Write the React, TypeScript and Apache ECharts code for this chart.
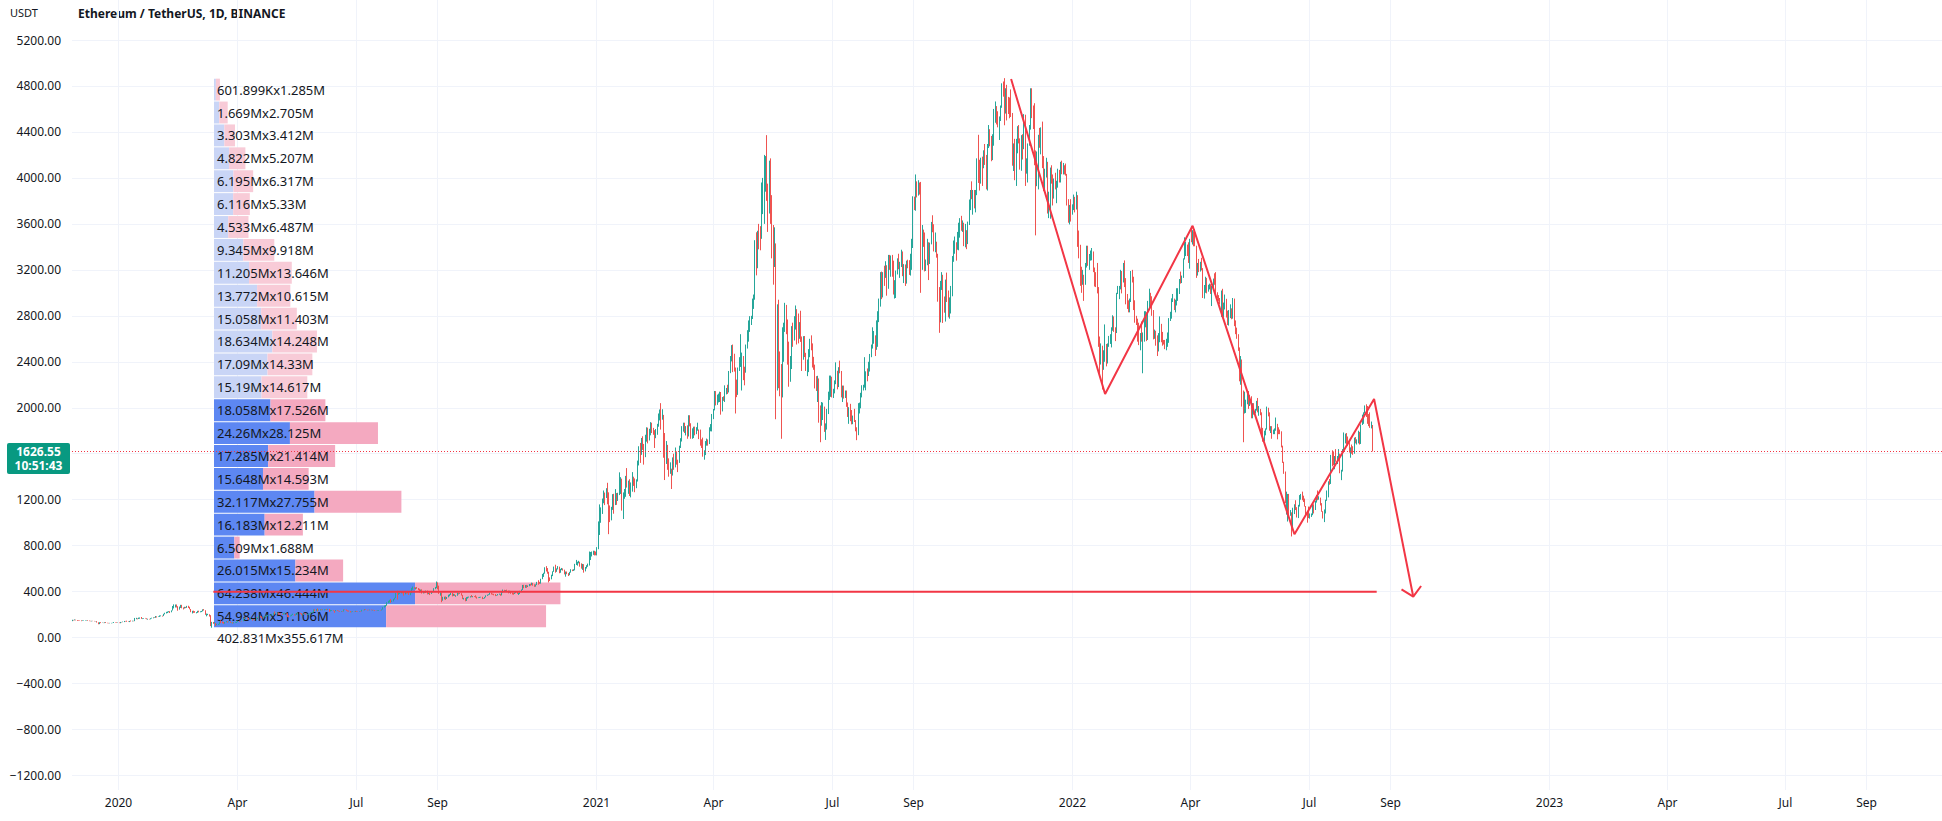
import React, { useEffect, useRef } from "react";
import * as echarts from "echarts";

// ---------- Chart text ----------
const TITLE = "Ethereum / TetherUS, 1D, BINANCE";
const CURRENCY = "USDT";
const LAST_PRICE = 1626.55;
const LAST_PRICE_TEXT = "1626.55";
const COUNTDOWN_TEXT = "10:51:43";

// ---------- Axes ----------
const Y_MIN = -1200;
const Y_MAX = 5200;
const Y_STEP = 400;
const X_TICK_DATES = ["2020-01-01", "2020-04-01", "2020-07-01", "2020-09-01", "2021-01-01", "2021-04-01", "2021-07-01", "2021-09-01", "2022-01-01", "2022-04-01", "2022-07-01", "2022-09-01", "2023-01-01", "2023-04-01", "2023-07-01", "2023-09-01"];
const X_TICK_LABELS = ["2020", "Apr", "Jul", "Sep", "2021", "Apr", "Jul", "Sep", "2022", "Apr", "Jul", "Sep", "2023", "Apr", "Jul", "Sep"];
const X_MIN = Date.UTC(2019, 10, 26, 18, 30);
const X_MAX = Date.UTC(2023, 9, 28, 22, 48);
const VOL_AXIS_MIN = -45.37;
const VOL_AXIS_MAX = 552.08;

// ---------- Daily candles: [close, high, low]; open = previous close ----------
const FIRST_OPEN = 146.8;
const nov19 = [[147.2,150,144],[152,155,143],[150.8,154,149],[155,158,150],[151,156,150]];
const dec19 = [[150,152,145],[148.5,151,146],[147,149,145],[146,150,143],[148,150,145],[149,150,146],[150,152,148],[150.5,152,148],[147,152,146],[145,148,143],[143,146,142],[145,146,141],[144.8,146,143],[141.6,145,141],[142.3,143,140],[132.7,143,131],[121.9,133,116],[132.4,134,117],[128.6,134,126],[128.7,130,127],[126.8,129,126],[132.2,133,126],[127.8,135,127],[127.5,129,125],[125.4,128,124],[125.9,128,124],[127,128,124],[128.1,129,126],[133.8,135,127],[132.1,134,130],[129.2,133,128]];
const jan20 = [[130.7,132,128],[127.2,131,126],[134.4,136,125],[134.2,136,132],[135.4,139,134],[144.2,144.8,135],[142.8,145,140],[140.8,147,138],[137.8,141,136],[144.5,145,135],[142.4,149,140],[146.1,147,141],[144,146,142],[165,171,143],[166.4,172,160],[163.8,167,159],[171,174,162],[174.1,175,164],[166.8,179,163],[167.2,168,161],[169.6,170,164],[167.8,171,166],[162.5,168,159],[162.5,164,156],[160.6,163,158],[168.3,169,159],[170.3,173,166],[175.6,176,168],[174.1,178,172],[184.7,188,172],[179.3,185,175]];
const feb20 = [[183.1,184,179],[188.6,193,180],[189.9,193,185],[188.6,191,183],[203.8,207,187],[212.7,216,202],[222.8,224,210],[223.2,227,213],[228.8,230,220],[222.6,230,214],[236.2,237,220],[265.1,275,236],[268.6,289,254],[284.3,288,262],[264.1,288,262],[258.9,273,234],[267.8,270,243],[282.3,285,258],[259.4,285,255],[257.8,263,245],[265,268,253],[261.3,267,256],[274.6,276,259],[265.9,277,258],[247.8,268,246],[224.9,249,221],[227.6,233,210],[226.6,234,215],[217.2,230,216]];
const mar20 = [[218,222,211],[231.5,233,215],[224.2,234,220],[224.5,229,220],[229,232,222],[244.1,246,228],[238,248,235],[200,238,198],[200.4,209,185],[201.2,207,195],[194.7,203,183],[112.4,195,100],[133.9,137,86],[123.7,136,120],[125.2,136,123],[110.6,126,101],[116.5,120,108],[117.6,119,110],[135.5,140,114],[132.7,150,126],[132.6,140,125],[122.3,136,120],[135.5,136,121],[138.8,145,134],[136.1,142,131],[138.4,140,133],[130.6,140,129],[131.3,132,125],[125.1,133,123],[132,134,124],[133.4,136,130]];
const apr20 = [[136.3,138,128],[141.8,147,135],[141.4,146,138],[143.8,146,140],[142.6,145,141],[170.5,172,142],[164.9,174,164],[173,175,162],[170.9,173,167],[158.1,171,155],[158.2,160,154],[160.8,167,157],[156.2,161,148],[157.6,159,153],[153,161,152],[172.3,176,150],[170.7,176,169],[187.4,188,170],[180.4,188,177],[170.5,183,168],[170.3,174,168],[183.4,184,170],[184.3,191,180],[187.6,190,182],[194.4,197,186],[196.9,199,193],[196.9,200,195],[197.1,200,193],[215,217,196],[205.9,227,201]];
const may20 = [[211.9,215,205],[213.6,215,209],[209.8,218,200],[207.2,210,198],[204.9,210,201],[203.6,208,199],[212.3,215,200],[212.4,217,209],[211,214,209],[188,212,178],[186,194,177],[189.2,193,184],[199,200,187],[202.9,208,196],[194.5,204,191],[200.2,201,193],[206.9,210,199],[214.3,215,205],[213.7,216,210],[209.5,215,206],[198.7,211,194],[208.7,210,197],[206.4,211,205],[201.3,210,200],[201.8,204,196],[203.7,207,199],[208.1,210,202],[219.9,221,206],[220.3,224,215],[244.3,245,219],[231.5,247,229]];
const jun20 = [[247.7,249,230],[236.3,253,228],[242.4,244,235],[244.4,246,236],[240.8,247,238],[242.7,244,238],[244.6,246,237],[245.8,247,242],[244,248,240],[247.4,250,242],[229.5,249,224],[236.5,241,228],[237.6,240,233],[233.2,239,232],[230.2,233,216],[236.5,240,229],[234.4,239,232],[230.2,235,228],[228.2,231,225],[228.9,230,224],[227.2,231,226],[243.4,245,227],[243.1,246,240],[236.1,245,233],[232,237,227],[229.6,235,226],[221.6,231,219],[225.1,227,220],[227.5,229,224],[225.7,228,223]];
const jul20 = [[231,233,224],[227.8,232,225],[225.8,229,225],[228.8,230,225],[227.1,229,224],[241.1,242,227],[238.4,242,237],[246.6,247,237],[242.1,248,240],[241.5,242,236],[239.3,242,238],[241.7,243,237],[239.2,244,237],[240.5,241,236],[238.7,242,237],[233.4,239,231],[232.8,235,231],[235.5,237,232],[238.5,240,234],[236.2,239,235],[245.4,246,236],[262.3,265,244],[274.5,279,261],[279.4,283,267],[305.7,308,277],[311.2,320,301],[321.1,328,305],[317.5,336,303],[318.2,323,309],[334.4,337,315],[345.7,347,330]];
const aug20 = [[387,389,344],[371.9,408,331],[385.9,392,372],[389.6,393,380],[400.9,405,385],[395.6,400,385],[378.9,399,365],[391.6,394,377],[391.2,395,381],[394.3,402,386],[378.1,399,371],[390.5,393,369],[427.6,433,387],[437,445,416],[433.7,440,424],[434,437,418],[428.4,440,424],[422.5,431,412],[406,425,393],[415.6,418,403],[386,420,383],[395.4,397,384],[390.9,396,386],[407.9,409,389],[384,409,376],[386.8,390,378],[381.6,393,370],[395.2,396,380],[399,402,393],[428.5,430,399],[434.5,441,421]];
const sep20 = [[477.6,488,430],[440.7,480,420],[385.5,452,380],[388.2,394,365],[335.1,392,308],[352.3,355,321],[352.8,356,333],[337.1,358,328],[351.3,353,336],[367.5,373,350],[374.1,378,360],[387.2,390,371],[365.1,388,359],[377.4,381,363],[364.7,378,362],[365.2,369,355],[388.2,392,364],[384.2,389,375],[385.5,388,381],[371.4,387,366],[341,371,335],[344.6,346,331],[320.5,345,316],[348,352,319],[352,355,339],[354.2,357,348],[357.6,360,349],[354.3,370,352],[359.7,361,351],[359.5,361,354]];
const oct20 = [[353.2,368,348],[346.5,356,339],[346.8,350,344],[352.8,354,345],[353.6,355,349],[340,355,335],[341.8,343,337],[350.8,354,340],[365.4,368,350],[370.5,374,363],[375.1,377,369],[387.6,393,373],[381.6,391,375],[378.9,383,373],[377.1,381,368],[366.6,379,361],[368.1,370,364],[376.9,379,367],[379.5,383,373],[368.4,380,364],[392.4,398,367],[413,418,391],[409.1,416,403],[411.6,413,405],[406.6,417,402],[393.1,409,385],[404.1,408,390],[387.5,406,381],[386.8,392,375],[383.4,388,373],[386.6,393,380]];
const nov20 = [[396.6,398,386],[383.8,397,380],[387.6,390,371],[402.4,407,379],[415.8,419,398],[454.6,458,414],[434.7,459,429],[455.2,457,433],[444.2,458,433],[449.6,454,440],[463.3,466,447],[462.3,468,451],[475.3,478,456],[461.4,476,451],[447.6,464,441],[459.7,463,443],[480.6,485,457],[478.6,499,460],[471.6,485,467],[510.2,512,469],[550.8,554,508],[559.8,564,528],[608.2,612,556],[603.8,622,575],[568.3,605,556],[518,573,480],[516.4,524,492],[539,547,507],[575.8,577,535],[615.2,618,572]];
const dec20 = [[587.4,634,565],[598.4,602,572],[616.3,622,593],[569.3,617,560],[596.6,598,564],[601.1,606,587],[591.1,602,583],[553.4,591,550],[573,575,530],[560.1,575,552],[545.6,561,536],[568.6,572,543],[590.7,595,565],[587.8,592,578],[589.5,595,580],[636.2,642,585],[642.6,676,632],[654.8,660,626],[658.4,668,646],[638.5,660,617],[609.3,646,600],[635,641,589],[584.1,639,565],[612.3,614,576],[625.9,630,601],[635.2,644,616],[683.1,749,627],[730.4,745,675],[732.7,749,706],[752.5,756,720],[737.8,755,715]];
const jan21 = [[730.4,749,716],[775,787,715],[979,1011,769],[1041,1159,893],[1100,1133,999],[1208,1210,1076],[1225,1280,1169],[1224,1262,1153],[1281,1300,1215],[1262,1347,1160],[1090,1264,900],[1043,1150,1005],[1130,1138,1020],[1217,1248,1111],[1171,1251,1078],[1233,1292,1153],[1231,1258,1155],[1256,1260,1189],[1378,1438,1240],[1382,1396,1250],[1120,1383,1105],[1233,1263,1032],[1235,1293,1208],[1391,1407,1225],[1324,1475,1305],[1357,1366,1251],[1253,1378,1232],[1331,1350,1220],[1381,1440,1270],[1378,1400,1320],[1314,1385,1265]];
const feb21 = [[1369,1377,1300],[1514,1540,1358],[1660,1665,1498],[1593,1694,1520],[1719,1737,1590],[1678,1752,1633],[1613,1685,1505],[1752,1765,1570],[1769,1830,1705],[1743,1827,1690],[1784,1817,1715],[1843,1875,1760],[1815,1870,1780],[1800,1825,1765],[1779,1805,1650],[1781,1815,1735],[1848,1860,1765],[1937,1950,1835],[1960,1985,1890],[1920,2040,1810],[1935,1987,1896],[1780,1938,1565],[1568,1780,1371],[1626,1710,1511],[1474,1677,1460],[1446,1560,1400],[1459,1525,1425],[1416,1470,1293]];
const mar21 = [[1566,1568,1410],[1487,1600,1460],[1573,1654,1481],[1541,1620,1505],[1533,1548,1440],[1654,1670,1520],[1723,1735,1650],[1834,1840,1706],[1868,1870,1792],[1797,1870,1780],[1826,1840,1759],[1772,1847,1730],[1924,1935,1750],[1852,1935,1838],[1792,1865,1730],[1806,1821,1730],[1825,1835,1736],[1782,1836,1760],[1810,1831,1770],[1811,1870,1800],[1788,1810,1727],[1684,1810,1670],[1669,1725,1650],[1582,1740,1574],[1588,1630,1548],[1702,1710,1590],[1716,1732,1670],[1692,1725,1670],[1819,1830,1684],[1846,1858,1795],[1919,1946,1794]];
const apr21 = [[1977,1990,1901],[2143,2146,1977],[2028,2145,2020],[2093,2114,2025],[2112,2123,2046],[2118,2140,2050],[1971,2137,1940],[2088,2093,1968],[2073,2100,2060],[2135,2195,2050],[2152,2172,2116],[2139,2200,2120],[2301,2320,2133],[2433,2450,2302],[2515,2545,2403],[2421,2550,2310],[2337,2470,2315],[2235,2350,1950],[2163,2245,2092],[2329,2350,2112],[2363,2440,2320],[2394,2640,2355],[2432,2480,2150],[2356,2450,2240],[2316,2357,2195],[2532,2550,2305],[2662,2675,2515],[2747,2760,2575],[2756,2797,2660],[2772,2800,2720]];
const may21 = [[2945,2950,2772],[2950,2985,2860],[3431,3458,2940],[3240,3527,3152],[3521,3540,3214],[3490,3600,3379],[3484,3580,3370],[3903,3960,3470],[3930,4000,3685],[3952,4200,3600],[4168,4190,3880],[3820,4372,3800],[3715,3950,3530],[4080,4150,3690],[3645,4170,3600],[3580,3850,3300],[3272,3590,3071],[3380,3570,3225],[2440,3430,1900],[2773,2900,2150],[2434,2940,2170],[2297,2490,2100],[2100,2380,1730],[2645,2700,2090],[2706,2740,2400],[2890,2913,2660],[2744,2895,2640],[2422,2768,2375],[2280,2575,2183],[2386,2450,2226],[2706,2710,2337]];
const jun21 = [[2635,2740,2530],[2707,2797,2585],[2856,2890,2680],[2689,2858,2550],[2628,2820,2560],[2710,2745,2600],[2593,2844,2573],[2515,2620,2320],[2612,2623,2418],[2473,2624,2441],[2355,2478,2320],[2372,2420,2275],[2508,2510,2310],[2587,2600,2440],[2554,2630,2500],[2370,2560,2350],[2366,2443,2330],[2223,2375,2168],[2178,2275,2146],[2250,2278,2050],[1889,2255,1870],[1875,2020,1700],[1968,2050,1844],[1989,2045,1893],[1808,2010,1790],[1828,1864,1720],[1981,1990,1810],[2088,2140,1945],[2168,2280,2068],[2270,2280,2095]];
const jul21 = [[2113,2270,2090],[2150,2165,2085],[2226,2238,2125],[2322,2395,2205],[2197,2321,2160],[2323,2353,2180],[2316,2410,2300],[2117,2320,2090],[2149,2193,2050],[2113,2193,2080],[2138,2150,2085],[2033,2150,2008],[1939,2046,1920],[1995,2005,1860],[1916,2034,1883],[1875,1980,1855],[1900,1932,1857],[1893,1991,1876],[1820,1890,1795],[1787,1830,1718],[1994,2040,1761],[2026,2045,1950],[2123,2130,1995],[2186,2196,2090],[2188,2200,2150],[2229,2440,2175],[2300,2317,2152],[2297,2342,2230],[2380,2400,2276],[2461,2468,2315],[2535,2550,2440]];
const aug21 = [[2557,2700,2515],[2610,2668,2585],[2505,2630,2450],[2725,2760,2504],[2827,2840,2530],[2889,2950,2745],[3157,3180,2880],[3012,3185,2945],[3163,3180,2960],[3141,3236,3060],[3164,3275,3130],[3048,3240,2975],[3320,3330,3035],[3266,3330,3200],[3309,3325,3140],[3147,3330,3140],[3013,3280,2985],[3018,3110,2950],[3180,3194,2955],[3282,3300,3160],[3228,3340,3205],[3238,3270,3130],[3318,3375,3225],[3174,3360,3145],[3226,3250,3085],[3101,3247,3060],[3267,3280,3080],[3238,3288,3214],[3225,3284,3156],[3225,3340,3150],[3433,3470,3200]];
const sep21 = [[3834,3840,3390],[3786,3837,3720],[3938,4030,3714],[3886,3970,3830],[3952,3980,3846],[3927,3960,3855],[3426,3965,3000],[3497,3590,3200],[3426,3550,3400],[3210,3525,3186],[3267,3290,3190],[3410,3470,3240],[3287,3440,3111],[3427,3437,3251],[3612,3617,3422],[3571,3675,3527],[3397,3597,3360],[3435,3525,3353],[3330,3445,3306],[2975,3340,2923],[2762,3050,2652],[3078,3104,2743],[3157,3180,3025],[2930,3147,2738],[2927,2968,2827],[3063,3115,2750],[2928,3176,2920],[2807,3020,2787],[2853,2960,2775],[3000,3060,2820]];
const oct21 = [[3307,3320,2970],[3390,3455,3270],[3418,3490,3340],[3381,3440,3280],[3518,3530,3375],[3580,3610,3370],[3588,3650,3480],[3561,3670,3540],[3575,3630,3530],[3412,3610,3406],[3545,3600,3396],[3496,3544,3380],[3605,3620,3424],[3790,3812,3590],[3868,3895,3720],[3830,3970,3815],[3849,3895,3680],[3749,3895,3735],[3878,3895,3700],[4156,4170,3850],[4054,4375,3956],[3972,4158,3890],[4170,4176,3950],[4084,4185,3930],[4218,4240,4084],[4131,4295,4113],[3924,4200,3900],[4287,4295,3890],[4416,4460,4260],[4321,4424,4275],[4288,4365,4145]];
const nov21 = [[4320,4380,4155],[4589,4600,4280],[4602,4665,4480],[4531,4625,4465],[4478,4580,4440],[4518,4535,4330],[4610,4630,4495],[4808,4823,4610],[4727,4839,4707],[4634,4868,4458],[4724,4780,4560],[4665,4810,4500],[4643,4705,4556],[4629,4700,4519],[4563,4770,4530],[4226,4565,4106],[4287,4300,4060],[3992,4340,3980],[4318,4340,3930],[4437,4450,4214],[4325,4460,4300],[4101,4344,4072],[4339,4372,4062],[4270,4380,4160],[4526,4555,4250],[4042,4550,3930],[4098,4170,4037],[4297,4300,3960],[4443,4460,4280],[4632,4780,4420]];
const dec21 = [[4585,4780,4520],[4515,4630,4425],[4239,4650,4110],[4117,4230,3500],[4196,4230,3928],[4351,4375,3900],[4309,4435,4262],[4431,4440,4205],[4111,4490,4085],[3894,4190,3885],[4075,4080,3875],[4129,4175,4003],[3780,4140,3690],[3858,3880,3650],[4016,4090,3645],[3959,4110,3950],[3872,4030,3760],[3958,3995,3820],[3930,4045,3900],[3941,3975,3780],[4018,4080,3915],[3980,4070,3960],[4107,4140,3960],[4047,4150,4032],[4094,4130,4030],[4070,4110,4030],[4035,4125,4020],[3795,4030,3760],[3628,3815,3610],[3710,3765,3595],[3682,3815,3620]];
const jan22 = [[3766,3770,3680],[3830,3855,3720],[3761,3835,3700],[3794,3880,3725],[3540,3850,3400],[3403,3542,3300],[3197,3418,3061],[3082,3227,3000],[3153,3200,3070],[3083,3157,2930],[3238,3260,3070],[3372,3410,3220],[3242,3410,3235],[3307,3338,3200],[3331,3368,3280],[3356,3390,3283],[3213,3360,3180],[3164,3220,3055],[3095,3180,3050],[3000,3260,2995],[2563,3050,2530],[2405,2620,2300],[2540,2560,2376],[2441,2535,2159],[2461,2500,2330],[2467,2725,2400],[2420,2555,2360],[2546,2560,2385],[2598,2625,2530],[2603,2640,2555],[2688,2700,2525]];
const feb22 = [[2791,2805,2670],[2681,2795,2660],[2670,2700,2580],[2989,3000,2650],[3017,3060,2990],[3058,3060,2945],[3141,3200,3030],[3123,3190,2995],[3241,3260,3090],[3074,3282,3050],[2927,3128,2900],[2913,2990,2860],[2880,2935,2830],[2934,2950,2830],[3183,3190,2920],[3130,3200,3090],[2886,3140,2850],[2785,2935,2740],[2762,2800,2720],[2629,2775,2575],[2571,2740,2545],[2640,2650,2500],[2585,2750,2575],[2596,2655,2300],[2775,2840,2575],[2780,2840,2700],[2620,2830,2580],[2920,2930,2590]];
const mar22 = [[2973,3036,2860],[2950,3000,2880],[2836,2970,2800],[2618,2850,2595],[2665,2680,2600],[2553,2670,2540],[2497,2630,2450],[2574,2650,2490],[2727,2795,2570],[2608,2730,2570],[2557,2660,2540],[2555,2590,2550],[2515,2590,2510],[2590,2600,2500],[2619,2655,2530],[2772,2780,2565],[2815,2835,2755],[2945,2952,2775],[2950,2990,2920],[2860,2950,2850],[2895,2940,2830],[2970,3040,2890],[3028,3040,2930],[3110,3120,2990],[3107,3185,3080],[3143,3150,3085],[3298,3300,3130],[3329,3483,3290],[3396,3445,3320],[3386,3420,3320],[3283,3440,3260]];
const apr22 = [[3452,3470,3210],[3446,3580,3440],[3522,3545,3420],[3521,3535,3405],[3410,3555,3405],[3171,3410,3130],[3233,3260,3150],[3190,3295,3180],[3261,3270,3185],[3207,3305,3195],[2981,3215,2955],[3030,3068,2950],[3120,3140,3000],[3017,3130,2995],[3043,3070,3010],[3064,3080,3030],[2993,3075,2990],[3058,3060,2885],[3104,3124,3030],[3079,3170,3070],[2985,3180,2970],[2965,3005,2950],[2939,2980,2930],[2922,2955,2900],[3005,3020,2790],[2809,3035,2795],[2890,2915,2790],[2936,2985,2855],[2817,2948,2785],[2728,2845,2720]];
const may22 = [[2827,2850,2715],[2857,2900,2780],[2782,2865,2770],[2940,2955,2775],[2750,2950,2710],[2697,2760,2640],[2635,2695,2600],[2519,2640,2495],[2243,2525,2230],[2343,2450,2200],[2073,2420,2010],[1961,2150,1700],[2013,2140,1950],[2058,2070,1955],[2146,2150,2030],[2024,2145,1990],[2092,2110,2015],[1912,2100,1908],[2018,2040,1908],[1960,2040,1940],[1975,1990,1950],[2043,2060,1975],[1972,2085,1960],[1978,2015,1930],[1945,1990,1935],[1803,1960,1750],[1725,1825,1705],[1792,1800,1710],[1813,1820,1760],[1996,2010,1810],[1942,2000,1925]];
const jun22 = [[1823,1960,1800],[1834,1840,1780],[1776,1840,1730],[1805,1810,1770],[1806,1820,1770],[1858,1915,1800],[1813,1860,1725],[1792,1830,1770],[1788,1810,1770],[1664,1795,1655],[1530,1670,1520],[1438,1530,1425],[1208,1445,1170],[1212,1270,1070],[1235,1250,1010],[1065,1250,1050],[1086,1110,1060],[995,1090,880],[1125,1130,960],[1125,1160,1075],[1124,1195,1110],[1050,1135,1045],[1144,1155,1040],[1225,1240,1140],[1243,1250,1200],[1200,1270,1195],[1190,1235,1180],[1142,1210,1140],[1098,1145,1075],[1067,1100,1000]];
const jul22 = [[1060,1140,1040],[1068,1080,1035],[1074,1080,1050],[1150,1155,1065],[1133,1160,1080],[1186,1190,1110],[1237,1240,1175],[1215,1280,1195],[1217,1230,1200],[1169,1218,1150],[1097,1170,1095],[1038,1100,1036],[1110,1115,1005],[1192,1200,1080],[1233,1280,1190],[1354,1360,1220],[1340,1380,1330],[1580,1590,1337],[1542,1630,1490],[1521,1620,1500],[1577,1580,1465],[1536,1640,1530],[1551,1580,1510],[1599,1640,1545],[1439,1600,1430],[1450,1460,1370],[1636,1640,1445],[1725,1785,1610],[1737,1775,1690],[1694,1780,1680],[1678,1750,1670]];
const aug22 = [[1630,1700,1610],[1633,1655,1565],[1619,1680,1600],[1608,1665,1590],[1733,1740,1600],[1695,1745,1690],[1700,1725,1680],[1776,1800,1690],[1700,1790,1680],[1851,1855,1685],[1880,1940,1850],[1957,1960,1860],[1980,2020,1950],[1935,2030,1920],[1904,2015,1860],[1876,1945,1840],[1833,1960,1825],[1848,1880,1820],[1626.55,1850,1620]];

const MONTHS: [string, number[][]][] = [
  ["2019-11-26", nov19], ["2019-12-01", dec19],
  ["2020-01-01", jan20], ["2020-02-01", feb20], ["2020-03-01", mar20], ["2020-04-01", apr20],
  ["2020-05-01", may20], ["2020-06-01", jun20], ["2020-07-01", jul20], ["2020-08-01", aug20],
  ["2020-09-01", sep20], ["2020-10-01", oct20], ["2020-11-01", nov20], ["2020-12-01", dec20],
  ["2021-01-01", jan21], ["2021-02-01", feb21], ["2021-03-01", mar21], ["2021-04-01", apr21],
  ["2021-05-01", may21], ["2021-06-01", jun21], ["2021-07-01", jul21], ["2021-08-01", aug21],
  ["2021-09-01", sep21], ["2021-10-01", oct21], ["2021-11-01", nov21], ["2021-12-01", dec21],
  ["2022-01-01", jan22], ["2022-02-01", feb22], ["2022-03-01", mar22], ["2022-04-01", apr22],
  ["2022-05-01", may22], ["2022-06-01", jun22], ["2022-07-01", jul22], ["2022-08-01", aug22],
];

// ---------- Fixed range volume profile (rows bottom -> top), values in millions ----------
const VP_START = "2020-03-14";
const VP_PRICE_LOW = 86;
const VP_PRICE_HIGH = 4868;
const VP_UP = [54.984, 64.238, 26.015, 6.509, 16.183, 32.117, 15.648, 17.285, 24.26, 18.058, 15.19, 17.09, 18.634, 15.058, 13.772, 11.205, 9.345, 4.533, 6.116, 6.195, 4.822, 3.303, 1.669, 0.601899];
const VP_DOWN = [51.106, 46.444, 15.234, 1.688, 12.211, 27.755, 14.593, 21.414, 28.125, 17.526, 14.617, 14.33, 14.248, 11.403, 10.615, 13.646, 9.918, 6.487, 5.33, 6.317, 5.207, 3.412, 2.705, 1.285];
const VP_IN_VALUE_AREA = [1, 1, 1, 1, 1, 1, 1, 1, 1, 1, 0, 0, 0, 0, 0, 0, 0, 0, 0, 0, 0, 0, 0, 0];
const VP_TOTAL_UP = 402.831;
const VP_TOTAL_DOWN = 355.617;

// ---------- Drawings ----------
const ZIGZAG: [string, number][] = [["2021-11-15", 4860], ["2022-01-26", 2120], ["2022-04-03", 3584], ["2022-06-20", 899], ["2022-08-20", 2076], ["2022-09-19", 356]];
const ARROW_HEAD: [string, number][] = [["2022-09-10", 420], ["2022-09-19", 356], ["2022-09-25", 449]];
const SUPPORT_LINE: [string, number][] = [["2020-03-14", 400], ["2022-08-22", 400]];

// ---------- Colours ----------
const UP = "#26a69a";
const DOWN = "#ef5350";
const DRAW_RED = "#f23645";
const TEXT = "#131722";
const GRID = "#f0f3fa";

const ts = (s: string) => {
  const [y, m, d] = s.split("-").map(Number);
  return Date.UTC(y, m - 1, d);
};

const fmtVol = (v: number) => (v < 1 ? `${+(v * 1000).toFixed(3)}K` : `${+v.toFixed(3)}M`);
const FONT = "Noto Sans";

function buildCandles() {
  const out: number[][] = [];
  let prev = FIRST_OPEN;
  for (const [start, rows] of MONTHS) {
    const [y, m, d] = start.split("-").map(Number);
    rows.forEach((r, k) => {
      const t = Date.UTC(y, m - 1, d + k);
      const [c, h, l] = r;
      const o = prev;
      out.push([t, o, c, Math.min(l, o, c), Math.max(h, o, c)]);
      prev = c;
    });
  }
  return out;
}

export default function App() {
  const ref = useRef<HTMLDivElement>(null);

  useEffect(() => {
    document.body.style.margin = "0";
    if (!ref.current) return;
    const chart = echarts.init(ref.current, undefined, { renderer: "svg" });

    const candles = buildCandles();
    const step = (VP_PRICE_HIGH - VP_PRICE_LOW) / VP_UP.length;

    const option: any = {
      animation: false,
      backgroundColor: "#ffffff",
      grid: { left: 72, right: 0, top: 40, height: 735.5, outerBoundsMode: "none", containLabel: false },
      xAxis: [
        { type: "time", min: X_MIN, max: X_MAX, show: false, splitLine: { show: false } },
        { type: "value", min: VOL_AXIS_MIN, max: VOL_AXIS_MAX, show: false, splitLine: { show: false } },
      ],
      yAxis: [
        {
          type: "value",
          min: Y_MIN,
          max: Y_MAX,
          interval: Y_STEP,
          position: "left",
          axisLine: { show: false },
          axisTick: { show: false },
          splitLine: { show: true, lineStyle: { color: GRID, width: 1 } },
          axisLabel: {
            color: TEXT,
            fontSize: 12,
            fontFamily: FONT,
            margin: 11,
            // the last-price badge covers the nearest scale label
            formatter: (v: number) =>
              Math.abs(v - LAST_PRICE) < Y_STEP / 4 ? "" : v < 0 ? "\u2212" + Math.abs(v).toFixed(2) : v.toFixed(2),
          },
        },
      ],
      graphic: [
        { type: "text", left: 10, top: 7, style: { text: CURRENCY, fill: TEXT, fontSize: 11, fontFamily: FONT } },
        { type: "text", left: 78, top: 7, style: { text: TITLE, fill: TEXT, fontSize: 12, fontWeight: "bold", fontFamily: FONT } },
      ],
      series: [
        {
          name: "xTicks",
          type: "custom",
          xAxisIndex: 0,
          yAxisIndex: 0,
          z: 1,
          silent: true,
          clip: false,
          data: X_TICK_DATES.map((d, i) => [ts(d), i]),
          encode: { x: 0 },
          renderItem: (params: any, api: any) => {
            const x = Math.round(api.coord([api.value(0), 0])[0]) + 0.5;
            return {
              type: "group",
              children: [
                { type: "line", shape: { x1: x, y1: 0, x2: x, y2: 790 }, style: { stroke: GRID, lineWidth: 1 } },
                {
                  type: "text",
                  style: {
                    x,
                    y: 802,
                    text: X_TICK_LABELS[api.value(1)],
                    fill: TEXT,
                    fontSize: 12,
                    fontFamily: FONT,
                    align: "center",
                    verticalAlign: "middle",
                  },
                },
              ],
            };
          },
        },
        {
          name: "volumeProfile",
          type: "custom",
          xAxisIndex: 1,
          yAxisIndex: 0,
          z: 2,
          silent: true,
          clip: false,
          data: VP_UP.map((u, i) => [i, u, VP_DOWN[i], VP_IN_VALUE_AREA[i]]),
          encode: { x: [1, 2] },
          renderItem: (params: any, api: any) => {
            const i = api.value(0);
            const up = api.value(1);
            const dn = api.value(2);
            const va = api.value(3) === 1;
            const pLow = VP_PRICE_LOW + i * step;
            const pHigh = pLow + step;
            const a = api.coord([0, pHigh]);
            const b = api.coord([up, pLow]);
            const c = api.coord([up + dn, pLow]);
            const yTop = a[1] + 0.5;
            const h = b[1] - a[1] - 1;
            return {
              type: "group",
              children: [
                { type: "rect", shape: { x: a[0], y: yTop, width: b[0] - a[0], height: h }, style: { fill: va ? "#5d87f2" : "#c9d5f6" } },
                { type: "rect", shape: { x: b[0], y: yTop, width: c[0] - b[0], height: h }, style: { fill: va ? "#f4a9c0" : "#f8cbd7" } },
                {
                  type: "text",
                  style: {
                    x: a[0] + 3,
                    y: (a[1] + b[1]) / 2,
                    text: `${fmtVol(up)}x${fmtVol(dn)}`,
                    fill: TEXT,
                    fontSize: 13,
                    fontFamily: FONT,
                    align: "left",
                    verticalAlign: "middle",
                  },
                },
              ],
            };
          },
        },
        {
          name: "volumeProfileTotal",
          type: "custom",
          xAxisIndex: 1,
          yAxisIndex: 0,
          z: 2,
          silent: true,
          clip: false,
          data: [[0, VP_PRICE_LOW]],
          renderItem: (params: any, api: any) => {
            const p = api.coord([api.value(0), api.value(1)]);
            return {
              type: "text",
              style: {
                x: p[0] + 3,
                y: p[1] + 10,
                text: `${fmtVol(VP_TOTAL_UP)}x${fmtVol(VP_TOTAL_DOWN)}`,
                fill: TEXT,
                fontSize: 13,
                fontFamily: FONT,
                align: "left",
                verticalAlign: "middle",
              },
            };
          },
        },
        {
          name: "ETHUSDT",
          type: "candlestick",
          xAxisIndex: 0,
          yAxisIndex: 0,
          z: 3,
          large: false,
          barWidth: 1,
          silent: true,
          data: candles,
          encode: { x: 0, y: [1, 2, 3, 4] },
          itemStyle: { color: UP, color0: DOWN, borderColor: UP, borderColor0: DOWN, borderWidth: 1 },
        },
        {
          name: "supportLine",
          type: "line",
          z: 4,
          silent: true,
          symbol: "none",
          data: SUPPORT_LINE.map(([d, p]) => [ts(d), p]),
          lineStyle: { color: DRAW_RED, width: 2 },
        },
        {
          name: "zigzag",
          type: "line",
          z: 4,
          silent: true,
          symbol: "none",
          data: ZIGZAG.map(([d, p]) => [ts(d), p]),
          lineStyle: { color: DRAW_RED, width: 2 },
        },
        {
          name: "arrowHead",
          type: "line",
          z: 4,
          silent: true,
          symbol: "none",
          data: ARROW_HEAD.map(([d, p]) => [ts(d), p]),
          lineStyle: { color: DRAW_RED, width: 2 },
        },
        {
          name: "lastPrice",
          type: "custom",
          xAxisIndex: 0,
          yAxisIndex: 0,
          z: 5,
          silent: true,
          clip: false,
          data: [[candles[candles.length - 1][0], LAST_PRICE]],
          renderItem: (params: any, api: any) => {
            const cs = params.coordSys;
            const y = Math.round(api.coord([api.value(0), api.value(1)])[1]) + 0.5;
            return {
              type: "group",
              children: [
                { type: "line", shape: { x1: cs.x, y1: y, x2: cs.x + cs.width, y2: y }, style: { stroke: DRAW_RED, lineWidth: 1, lineDash: [1, 2] } },
                { type: "rect", shape: { x: 7, y: y - 8.5, width: 63, height: 31, r: 2 }, style: { fill: "#089981" } },
                { type: "text", style: { x: 38.5, y: y, text: LAST_PRICE_TEXT, fill: "#ffffff", fontSize: 12, fontWeight: "bold", fontFamily: FONT, align: "center", verticalAlign: "middle" } },
                { type: "text", style: { x: 38.5, y: y + 14, text: COUNTDOWN_TEXT, fill: "#ffffff", fontSize: 12, fontWeight: "bold", fontFamily: FONT, align: "center", verticalAlign: "middle" } },
              ],
            };
          },
        },
      ],
    };

    chart.setOption(option);
    return () => chart.dispose();
  }, []);

  return <div ref={ref} style={{ width: 1942, height: 821, position: "absolute", left: 0, top: 0 }} />;
}
